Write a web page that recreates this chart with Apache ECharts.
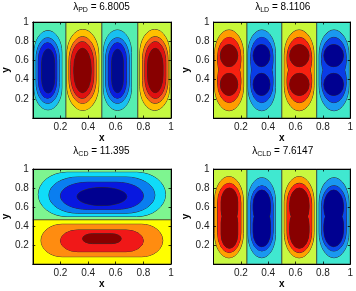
<!DOCTYPE html>
<html><head><meta charset="utf-8">
<script src="https://cdn.jsdelivr.net/npm/echarts@6/dist/echarts.min.js"></script>
<style>html,body{margin:0;padding:0;background:#fff}#c{width:356px;height:291px}</style>
</head><body><div id="c"></div>
<script>
// ---- data ----
const lambdaSub = ['PD', 'LD', 'CD', 'CLD'];
const lambdaVal = ['6.8005', '8.1106', '11.395', '7.6147'];
const xTicks = [0.2, 0.4, 0.6, 0.8, 1];
const yTicks = [0.2, 0.4, 0.6, 0.8, 1];

// zero-level zones: [level, x0, x1, y0, y1]
const pdZones = [[-1, 0, 0.24, 0, 1], [1, 0.24, 0.5, 0, 1], [-1, 0.5, 0.76, 0, 1], [1, 0.76, 1, 0, 1]];
const ldZones = [[1, 0, 0.245, 0, 1], [-1, 0.245, 0.5, 0, 1], [1, 0.5, 0.755, 0, 1], [-1, 0.755, 1, 0, 1]];
const cdZones = [[-1, 0, 1, 0.465, 1], [1, 0, 1, 0, 0.465]];
const cldZones = [[1, 0, 0.245, 0, 1], [-1, 0.245, 0.5, 0, 1], [1, 0.5, 0.755, 0, 1], [-1, 0.755, 1, 0, 1]];

// contour regions: [level, x0, x1, y0, y1]
const pdRings = [
  [-2, 0.01, 0.21, 0.085, 0.91], [-3, 0.024, 0.192, 0.153, 0.835], [-4, 0.04, 0.173, 0.205, 0.785], [-5, 0.064, 0.158, 0.26, 0.72],
  [2, 0.247, 0.477, 0.08, 0.922], [3, 0.262, 0.458, 0.153, 0.847], [4, 0.275, 0.441, 0.205, 0.795], [5, 0.297, 0.422, 0.264, 0.726],
  [-2, 0.511, 0.714, 0.08, 0.917], [-3, 0.527, 0.698, 0.153, 0.835], [-4, 0.547, 0.678, 0.205, 0.785], [-5, 0.571, 0.655, 0.264, 0.716],
  [2, 0.775, 0.99, 0.08, 0.922], [3, 0.794, 0.978, 0.153, 0.847], [4, 0.811, 0.962, 0.205, 0.795], [5, 0.83, 0.942, 0.264, 0.726]
];
const ldRings = [
  [2, 0.008, 0.22, 0.076, 0.917], [3, 0.03, 0.2, 0.39, 0.84], [3, 0.03, 0.2, 0.16, 0.61], [4, 0.05, 0.177, 0.535, 0.765], [4, 0.05, 0.177, 0.235, 0.465],
  [-2, 0.253, 0.453, 0.076, 0.917], [-3, 0.272, 0.435, 0.39, 0.84], [-3, 0.272, 0.435, 0.16, 0.61], [-4, 0.29, 0.413, 0.535, 0.765], [-4, 0.29, 0.413, 0.235, 0.465],
  [2, 0.518, 0.735, 0.076, 0.917], [3, 0.538, 0.718, 0.39, 0.84], [3, 0.538, 0.718, 0.16, 0.61], [4, 0.557, 0.699, 0.535, 0.765], [4, 0.557, 0.699, 0.235, 0.465],
  [-2, 0.773, 0.99, 0.076, 0.917], [-3, 0.79, 0.971, 0.39, 0.84], [-3, 0.79, 0.971, 0.16, 0.61], [-4, 0.807, 0.951, 0.535, 0.765], [-4, 0.807, 0.951, 0.235, 0.465]
];
const cdRings = [
  [-2, 0.04, 0.96, 0.5, 0.965], [-3, 0.117, 0.883, 0.535, 0.915], [-4, 0.2, 0.8, 0.575, 0.86], [-5, 0.32, 0.68, 0.615, 0.805],
  [2, 0.06, 0.94, 0.077, 0.418], [3, 0.2, 0.8, 0.13, 0.358], [4, 0.36, 0.64, 0.215, 0.318]
];
const cldRings = [
  [2, 0.008, 0.218, 0.065, 0.92], [3, 0.03, 0.2, 0.12, 0.85], [4, 0.056, 0.177, 0.42, 0.8], [4, 0.056, 0.177, 0.165, 0.58],
  [-2, 0.253, 0.453, 0.066, 0.908], [-3, 0.272, 0.436, 0.137, 0.824], [-4, 0.29, 0.417, 0.42, 0.779], [-4, 0.29, 0.417, 0.182, 0.58],
  [2, 0.518, 0.735, 0.065, 0.92], [3, 0.538, 0.718, 0.12, 0.85], [4, 0.557, 0.699, 0.42, 0.8], [4, 0.557, 0.699, 0.165, 0.58],
  [-2, 0.773, 0.99, 0.066, 0.908], [-3, 0.79, 0.971, 0.137, 0.824], [-4, 0.807, 0.951, 0.42, 0.779], [-4, 0.807, 0.951, 0.182, 0.58]
];

// ---- styles ----
const FONT = '"Liberation Sans", Arial, Helvetica, sans-serif';
const LINE = '#303030';
const panels = [
  { zones: pdZones, rings: pdRings, k: [1.6, 1.8, 2.0, 2.3],
    colors: { '-1': '#55eeb0', '-2': '#18c0f0', '-3': '#1070f0', '-4': '#0a1ce0', '-5': '#000a90',
              '1': '#c4f840', '2': '#ffc000', '3': '#f86018', '4': '#e01010', '5': '#880000' } },
  { zones: ldZones, rings: ldRings, k: [1.7, 1.7, 1.7],
    colors: { '-1': '#40e8c8', '-2': '#1a98f0', '-3': '#0a3ce6', '-4': '#000090',
              '1': '#c8f838', '2': '#ff9c00', '3': '#f52010', '4': '#880000' } },
  { zones: cdZones, rings: cdRings, k: [1.3, 1.6, 2.0, 3.0],
    colors: { '-1': '#7ef590', '-2': '#10dcf8', '-3': '#0a7ef0', '-4': '#0818e0', '-5': '#000090',
              '1': '#ffff00', '2': '#ff8c10', '3': '#f01818', '4': '#880000' } },
  { zones: cldZones, rings: cldRings, k: [1.7, 1.7, 1.7],
    colors: { '-1': '#40e8d0', '-2': '#1a98f0', '-3': '#0a48ea', '-4': '#000090',
              '1': '#c8f840', '2': '#ffa000', '3': '#ff2010', '4': '#880000' } }
];
const grids = [
  { left: 32, top: 22, width: 139, height: 96 },
  { left: 213.5, top: 22, width: 138.5, height: 96 },
  { left: 32, top: 169, width: 139, height: 95 },
  { left: 213.5, top: 169, width: 138.5, height: 95 }
];
const titlePos = [[101.5, 0], [282.75, 0], [101.5, 144], [282.75, 144]];

function roundedPath(a, b, kk) {
  const X0 = a[0], Y0 = a[1], X1 = b[0], Y1 = b[1];
  const w = X1 - X0, h = Y1 - Y0;
  const rx = Math.min(w / 2, kk * h / 2), ry = Math.min(h / 2, kk * w / 2);
  return 'M' + (X0 + rx) + ' ' + Y0 + ' L' + (X1 - rx) + ' ' + Y0 +
    ' A' + rx + ' ' + ry + ' 0 0 1 ' + X1 + ' ' + (Y0 + ry) +
    ' L' + X1 + ' ' + (Y1 - ry) +
    ' A' + rx + ' ' + ry + ' 0 0 1 ' + (X1 - rx) + ' ' + Y1 +
    ' L' + (X0 + rx) + ' ' + Y1 +
    ' A' + rx + ' ' + ry + ' 0 0 1 ' + X0 + ' ' + (Y1 - ry) +
    ' L' + X0 + ' ' + (Y0 + ry) +
    ' A' + rx + ' ' + ry + ' 0 0 1 ' + (X0 + rx) + ' ' + Y0 + ' Z';
}

function makeRender(P) {
  return function (params, api) {
    const children = [];
    P.zones.forEach(function (z) {
      const a = api.coord([z[1], z[4]]), b = api.coord([z[2], z[3]]);
      children.push({ type: 'rect', shape: { x: a[0], y: a[1], width: b[0] - a[0], height: b[1] - a[1] },
        style: { fill: P.colors[String(z[0])], stroke: LINE, lineWidth: 0.7 } });
    });
    const depths = Array.from(new Set(P.rings.map(function (r) { return Math.abs(r[0]); }))).sort(function (a, b) { return a - b; });
    depths.forEach(function (d) {
      const rs = P.rings.filter(function (r) { return Math.abs(r[0]) === d; });
      const paths = rs.map(function (r) {
        return { lv: r[0], d: roundedPath(api.coord([r[1], r[4]]), api.coord([r[2], r[3]]), P.k[d - 2]) };
      });
      paths.forEach(function (p) {
        children.push({ type: 'path', shape: { pathData: p.d }, style: { fill: P.colors[String(p.lv)], stroke: LINE, lineWidth: 1.0 } });
      });
      paths.forEach(function (p) {
        children.push({ type: 'path', shape: { pathData: p.d }, style: { fill: P.colors[String(p.lv)], stroke: null, lineWidth: 0 } });
      });
    });
    return { type: 'group', children: children };
  };
}

function fmt(list) {
  return function (v) {
    const r = Math.round(v * 10) / 10;
    return list.indexOf(r) >= 0 ? String(r) : '';
  };
}

const xAxes = [], yAxes = [], series = [], titles = [];
for (let i = 0; i < 4; i++) {
  const tick = { inside: true, length: 2.5, lineStyle: { color: '#000', width: 0.8 } };
  const line = { onZero: false, lineStyle: { color: '#000', width: 1 } };
  xAxes.push({ gridIndex: i, type: 'value', min: 0, max: 1, interval: 0.2, position: 'bottom', z: 10,
    name: 'x', nameLocation: 'middle', nameGap: 14,
    nameTextStyle: { fontFamily: FONT, fontWeight: 'bold', fontSize: 10, color: '#000' },
    axisLine: line, axisTick: tick, splitLine: { show: false },
    axisLabel: { fontFamily: FONT, fontSize: 10, color: '#222', margin: 4, formatter: fmt(xTicks), showMinLabel: true, showMaxLabel: true } });
  xAxes.push({ gridIndex: i, type: 'value', min: 0, max: 1, interval: 0.2, position: 'top', z: 10,
    axisLine: line, axisTick: tick, splitLine: { show: false }, axisLabel: { show: false } });
  yAxes.push({ gridIndex: i, type: 'value', min: 0, max: 1, interval: 0.2, position: 'left', z: 10,
    name: 'y', nameLocation: 'middle', nameGap: 19,
    nameTextStyle: { fontFamily: FONT, fontWeight: 'bold', fontSize: 10, color: '#000' },
    axisLine: line, axisTick: tick, splitLine: { show: false },
    axisLabel: { fontFamily: FONT, fontSize: 10, color: '#222', margin: 4, formatter: fmt(yTicks), showMinLabel: true, showMaxLabel: true } });
  yAxes.push({ gridIndex: i, type: 'value', min: 0, max: 1, interval: 0.2, position: 'right', z: 10,
    axisLine: line, axisTick: tick, splitLine: { show: false }, axisLabel: { show: false } });
  series.push({ type: 'custom', coordinateSystem: 'cartesian2d', xAxisIndex: 2 * i, yAxisIndex: 2 * i,
    silent: true, animation: false, data: [[0.5, 0.5]], renderItem: makeRender(panels[i]) });
  titles.push({ text: '{g|λ}{s|' + lambdaSub[i] + '}{t| = ' + lambdaVal[i] + '}',
    left: titlePos[i][0], top: titlePos[i][1], textAlign: 'center', padding: 0,
    textStyle: { fontWeight: 'normal', fontFamily: FONT, fontSize: 10, color: '#000', rich: {
      g: { fontFamily: FONT, fontWeight: 'normal', fontSize: 10, lineHeight: 14, color: '#000', verticalAlign: 'middle' },
      s: { fontFamily: FONT, fontWeight: 'normal', fontSize: 7, lineHeight: 8, color: '#000', verticalAlign: 'bottom' },
      t: { fontFamily: FONT, fontWeight: 'normal', fontSize: 10, lineHeight: 14, color: '#000', verticalAlign: 'middle' } } } });
}

const chart = echarts.init(document.getElementById('c'), null, { renderer: 'canvas' });
chart.setOption({
  animation: false,
  backgroundColor: '#fff',
  title: titles,
  grid: grids,
  xAxis: xAxes,
  yAxis: yAxes,
  series: series
});
</script>
</body></html>
